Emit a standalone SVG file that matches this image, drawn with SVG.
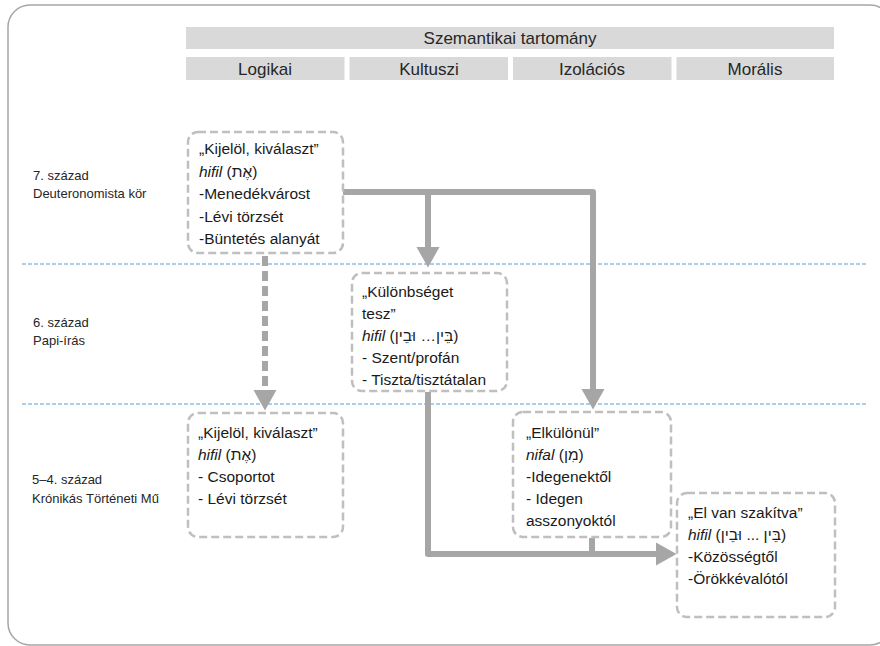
<svg xmlns="http://www.w3.org/2000/svg" width="880" height="646" viewBox="0 0 880 646">
<style>
.frame{fill:none;stroke:#a6a6a6;stroke-width:1.5}
.hdr{fill:#d9d9d9}
.htxt{font-family:"Liberation Sans",Arial,sans-serif;font-size:17px;fill:#262626;text-anchor:middle}
.lbl{font-family:"Liberation Sans",Arial,sans-serif;font-size:13px;fill:#262626}
.box{fill:#fff;stroke:#bfbfbf;stroke-width:2.5;stroke-dasharray:8 4}
.bt{font-family:"Liberation Sans","DejaVu Sans",Arial,sans-serif;font-size:15.5px;fill:#1a1a1a}
.it{font-style:italic}
.sep{stroke:#5b9bd5;stroke-width:1;stroke-dasharray:4 2}
.con{fill:none;stroke:#a6a6a6;stroke-width:6;stroke-linejoin:round}
.dash{stroke-dasharray:10 5}
</style>
<defs>
<marker id="ah" markerUnits="userSpaceOnUse" markerWidth="21" markerHeight="24" viewBox="0 -12 21 24" refX="0" refY="0" orient="auto" overflow="visible">
<path d="M0,-11.5 L20.5,0 L0,11.5 Z" fill="#a6a6a6" stroke="none"/>
</marker>
</defs>
<rect class="frame" x="8" y="5" width="884" height="640" rx="22"/>

<g id="header">
<rect class="hdr" x="186" y="27" width="648" height="22"/>
<text class="htxt" x="510" y="44">Szemantikai tartomány</text>
<rect class="hdr" x="186" y="57" width="158.5" height="23"/>
<rect class="hdr" x="349.5" y="57" width="158.5" height="23"/>
<rect class="hdr" x="513" y="57" width="158.5" height="23"/>
<rect class="hdr" x="676.5" y="57" width="157.5" height="23"/>
<text class="htxt" x="265" y="75">Logikai</text>
<text class="htxt" x="429" y="75">Kultuszi</text>
<text class="htxt" x="592" y="75">Izolációs</text>
<text class="htxt" x="755" y="75">Morális</text>
</g>

<g id="separators">
<line class="sep" x1="22" y1="264" x2="866" y2="264"/>
<line class="sep" x1="22" y1="404" x2="866" y2="404"/>
</g>

<g id="period-labels">
<text class="lbl" x="33" y="180">7. század</text>
<text class="lbl" x="33" y="198">Deuteronomista kör</text>
<text class="lbl" x="33" y="327">6. század</text>
<text class="lbl" x="33" y="345">Papi-írás</text>
<text class="lbl" x="32" y="484">5–4. század</text>
<text class="lbl" x="32" y="503">Krónikás Történeti Mű</text>
</g>

<g id="connectors">
<path class="con" d="M343,192 H593 V389"/>
<path class="con" d="M428,192 V247" marker-end="url(#ah)"/>
<path d="M593,380 V389" fill="none" stroke="none" marker-end="url(#ah)"/>
<path class="con dash" d="M265,256 V390"/>
<path d="M265,385 V390" fill="none" stroke="none" marker-end="url(#ah)"/>
<path class="con" d="M428,392 V554 H656" marker-end="url(#ah)"/>
<path class="con" d="M592,538 V554"/>
</g>

<g id="box-logikai-7">
<rect class="box" x="188" y="132" width="155" height="121" rx="10"/>
<text class="bt" x="199" y="154">„Kijelöl, kiválaszt”</text>
<text class="bt" x="199" y="176.5"><tspan class="it">hifil</tspan> (אֶת)</text>
<text class="bt" x="199" y="199">-Menedékvárost</text>
<text class="bt" x="199" y="221.5">-Lévi törzsét</text>
<text class="bt" x="199" y="244">-Büntetés alanyát</text>
</g>

<g id="box-kultuszi-6">
<rect class="box" x="352" y="273" width="155" height="118" rx="10"/>
<text class="bt" x="362" y="297">„Különbséget</text>
<text class="bt" x="362" y="319">tesz”</text>
<text class="bt" x="362" y="341"><tspan class="it">hifil</tspan> (בֵּין… וּבֵין)</text>
<text class="bt" x="362" y="363">- Szent/profán</text>
<text class="bt" x="362" y="385">- Tiszta/tisztátalan</text>
</g>

<g id="box-logikai-5">
<rect class="box" x="188" y="413" width="155" height="124" rx="10"/>
<text class="bt" x="198" y="438">„Kijelöl, kiválaszt”</text>
<text class="bt" x="198" y="460"><tspan class="it">hifil</tspan> (אֶת)</text>
<text class="bt" x="198" y="482">- Csoportot</text>
<text class="bt" x="198" y="504">- Lévi törzsét</text>
</g>

<g id="box-izolacios-5">
<rect class="box" x="513" y="412" width="158" height="125" rx="10"/>
<text class="bt" x="526" y="438">„Elkülönül”</text>
<text class="bt" x="526" y="460"><tspan class="it">nifal</tspan> (מִן)</text>
<text class="bt" x="526" y="482">-Idegenektől</text>
<text class="bt" x="526" y="504">- Idegen</text>
<text class="bt" x="526" y="526">asszonyoktól</text>
</g>

<g id="box-moralis-5">
<rect class="box" x="677" y="493" width="158" height="124" rx="10"/>
<text class="bt" x="688" y="518">„El van szakítva”</text>
<text class="bt" x="688" y="540"><tspan class="it">hifil</tspan> (בֵּין ... וּבֵין)</text>
<text class="bt" x="688" y="562">-Közösségtől</text>
<text class="bt" x="688" y="584">-Örökkévalótól</text>
</g>
</svg>
